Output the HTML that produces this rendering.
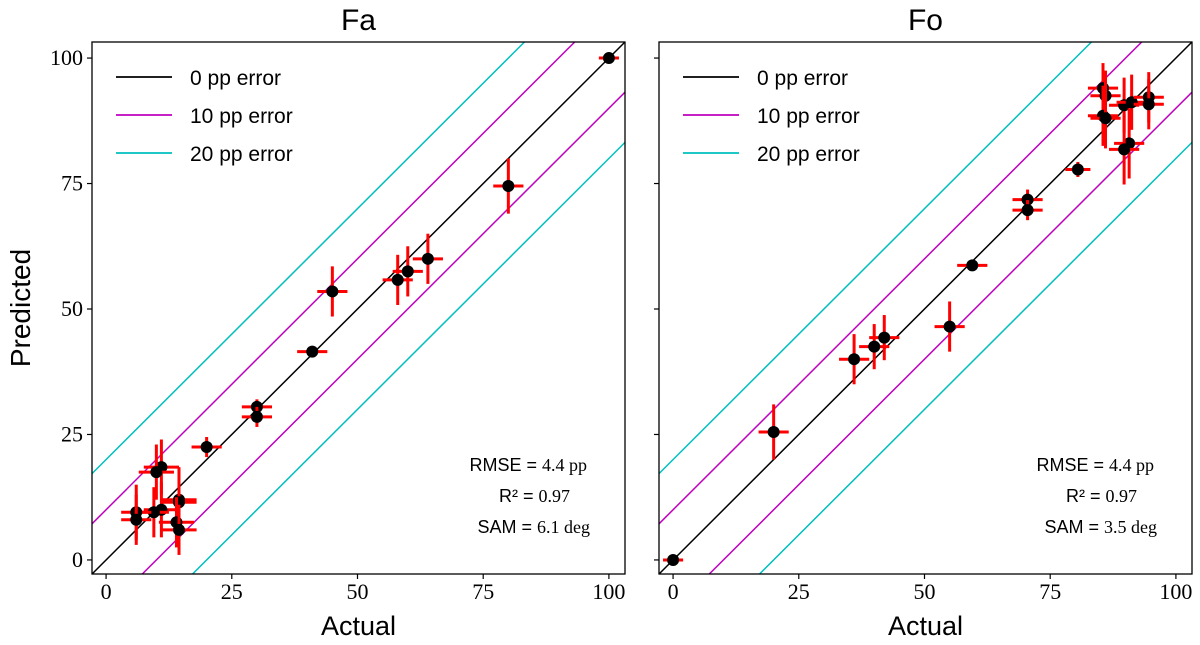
<!DOCTYPE html>
<html><head><meta charset="utf-8"><style>
html,body{margin:0;padding:0;background:#fff;width:1200px;height:645px;overflow:hidden}
svg{display:block;overflow:hidden}
</style></head><body>
<svg id="chart" width="1200" height="645" xmlns="http://www.w3.org/2000/svg"></svg>
<script>
const ticks = [0, 25, 50, 75, 100];
const tickLabels = ["0", "25", "50", "75", "100"];
const faActual = [100, 80, 64, 60, 58, 45, 41, 30, 30, 20, 11, 10, 14.5, 14.5, 11, 9.5, 6, 6, 14, 14.5];
const faPred = [100, 74.5, 60, 57.5, 55.8, 53.5, 41.5, 30.5, 28.5, 22.5, 18.5, 17.5, 12, 11.5, 10, 9.5, 9.5, 8, 7.5, 6];
const faXErr = [2, 3, 3, 3, 3, 3, 3, 3, 3, 3, 3.5, 3.5, 3.5, 3.5, 3.5, 3, 3, 3, 3.5, 3.5];
const faYErr = [0, 5.5, 5, 5, 5, 5, 1, 1.5, 2, 2, 5.5, 5.5, 6.5, 6, 5.5, 5, 5.5, 5, 5, 5];
const foActual = [0, 20, 36, 40, 42, 55, 59.5, 70.5, 70.5, 80.5, 85.5, 86, 85.5, 86, 89.7, 91.2, 94.6, 94.6, 90.7, 89.7];
const foPred = [0, 25.5, 40, 42.5, 44.3, 46.5, 58.7, 71.8, 69.7, 77.8, 94, 92.5, 88.5, 88, 90.6, 91.2, 92.2, 90.8, 83, 81.8];
const foXErr = [2, 3, 3, 3, 3, 3, 3, 3, 3, 2.5, 3, 3, 3, 3, 3, 3, 3, 3, 3, 3];
const foYErr = [0, 5.5, 5, 4.5, 4.5, 5, 0.8, 2, 2, 1.5, 5, 5, 6, 6, 5.5, 5.5, 5, 5, 7, 7];
const errLines = [0, 10, 20];
const errColors = ["#000000", "#bf00bf", "#00bfbf"];
const errLabels = ["0 pp error", "10 pp error", "20 pp error"];

const NS = "http://www.w3.org/2000/svg";
const svg = document.getElementById("chart");
function mk(tag, attrs, parent) {
  const e = document.createElementNS(NS, tag);
  for (const k in attrs) e.setAttribute(k, attrs[k]);
  (parent || svg).appendChild(e);
  return e;
}
const LO = -2.8, HI = 103.2;
function panel(left, title, actual, pred, xe, ye, stats, showY, key) {
  const right = left + 533, top = 42, bottom = 574;
  const sx = v => left + (v - LO) / (HI - LO) * (right - left);
  const sy = v => bottom - (v - LO) / (HI - LO) * (bottom - top);
  const g = mk("g", {});
  
  
  mk("clipPath", {id: "clip-" + key}, g);
  mk("rect", {x: left, y: top, width: right - left, height: bottom - top}, g.lastChild);
  const lines = mk("g", {"clip-path": "url(#clip-" + key + ")"}, g);
  errLines.forEach((d, i) => {
    [d, -d].forEach((off, j) => {
      if (d === 0 && j === 1) return;
      const xa = Math.max(LO, LO - off), xb = Math.min(HI, HI - off);
      const l = mk("line", {x1: sx(xa), y1: sy(xa + off), x2: sx(xb), y2: sy(xb + off), stroke: errColors[i], "stroke-width": 1.5}, lines);
      
      
    });
  });
  actual.forEach((a, i) => {
    const p = pred[i];
    const pg = mk("g", {}, lines);
    
    
    mk("line", {x1: sx(a - xe[i]), x2: sx(a + xe[i]), y1: sy(p), y2: sy(p), stroke: "#ff0000", "stroke-width": 3}, pg);
    mk("line", {x1: sx(a), x2: sx(a), y1: sy(p - ye[i]), y2: sy(p + ye[i]), stroke: "#ff0000", "stroke-width": 3}, pg);
    mk("circle", {cx: sx(a), cy: sy(p), r: 6, fill: "#000"}, pg);
  });
  const fr = mk("rect", {x: left, y: top, width: right - left, height: bottom - top, fill: "none", stroke: "#000", "stroke-width": 1.3}, g);
  
  
  ticks.forEach((t, i) => {
    mk("line", {x1: sx(t), x2: sx(t), y1: bottom, y2: bottom + 5, stroke: "#000", "stroke-width": 1.2}, g);
    const xl = mk("text", {x: sx(t), y: bottom + 25, "text-anchor": "middle", "font-family": "Liberation Serif, serif", "font-size": 22}, g);
    xl.textContent = tickLabels[i];
    
    
    mk("line", {x1: left - 5, x2: left, y1: sy(t), y2: sy(t), stroke: "#000", "stroke-width": 1.2}, g);
    if (showY) {
      const yl = mk("text", {x: left - 9, y: sy(t) + 7, "text-anchor": "end", "font-family": "Liberation Serif, serif", "font-size": 22}, g);
      yl.textContent = tickLabels[i];
      
      
    }
  });
  const tt = mk("text", {x: (left + right) / 2, y: 30, "text-anchor": "middle", "font-family": "Liberation Sans, sans-serif", "font-size": 30}, g);
  tt.textContent = title;
  
  
  const xt = mk("text", {x: (left + right) / 2, y: 635, "text-anchor": "middle", "font-family": "Liberation Sans, sans-serif", "font-size": 27}, g);
  xt.textContent = "Actual";
  
  
  const lg = mk("g", {}, g);
  
  
  errLabels.forEach((lab, i) => {
    const y = 77 + i * 38;
    const e = mk("g", {}, lg);
    
    
    mk("line", {x1: left + 24, x2: left + 80, y1: y, y2: y, stroke: errColors[i], "stroke-width": 1.8}, e);
    const t = mk("text", {x: left + 98, y: y + 8, "font-family": "Liberation Sans, sans-serif", "font-size": 21}, e);
    t.textContent = lab;
  });
  const st = mk("g", {"font-size": 18, "text-anchor": "end"}, g);
  
  
  const rows = [["RMSE = ", stats[0] + " pp"], ["R² = ", stats[1]], ["SAM = ", stats[2] + " deg"]];
  const xs = [right - 38, right - 55, right - 35];
  rows.forEach((r, i) => {
    const t = mk("text", {x: xs[i], y: 471 + i * 31}, st);
    const a = mk("tspan", {"font-family": "Liberation Sans, sans-serif"}, t); a.textContent = r[0];
    const b = mk("tspan", {"font-family": "Liberation Serif, serif"}, t); b.textContent = r[1];
  });
}
panel(92, "Fa", faActual, faPred, faXErr, faYErr, ["4.4", "0.97", "6.1"], true, "fa");
panel(659, "Fo", foActual, foPred, foXErr, foYErr, ["4.4", "0.97", "3.5"], false, "fo");
const yt = mk("text", {x: 0, y: 0, transform: "translate(30,308) rotate(-90)", "text-anchor": "middle", "font-family": "Liberation Sans, sans-serif", "font-size": 28});
yt.textContent = "Predicted";


</script>
</body></html>
